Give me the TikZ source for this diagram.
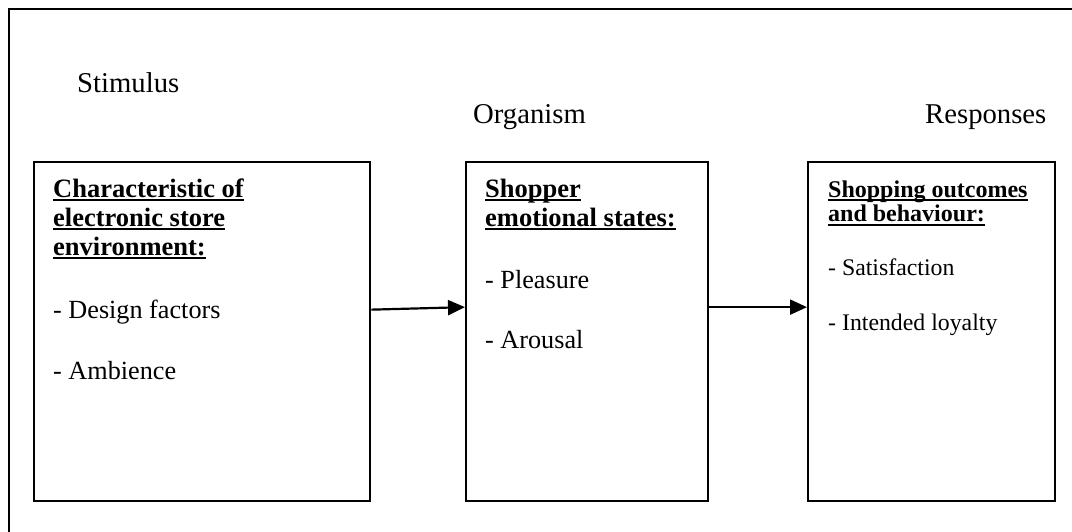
\documentclass[tikz,border=0pt]{standalone}
\usepackage{fontspec}
\setmainfont{Liberation Serif}
\usetikzlibrary{arrows.meta}
\newcommand\myul[1]{\setbox0\hbox{#1}\rlap{\rule[-3.8pt]{\wd0}{2.2pt}}\box0}
\begin{document}
\begin{tikzpicture}[x=1pt,y=-1pt,
  boxnode/.style={draw,line width=2.3pt,rectangle,anchor=north west,inner sep=0pt,minimum height=339pt},
  toplbl/.style={anchor=base west,inner sep=0pt,font=\fontsize{28.7}{30}\selectfont},
  hdr/.style={anchor=base west,inner sep=0pt,font=\fontsize{26.5}{30}\selectfont\bfseries},
  item/.style={anchor=base west,inner sep=0pt,font=\fontsize{26.2}{30}\selectfont},
  hdrs/.style={anchor=base west,inner sep=0pt,font=\fontsize{24}{26}\selectfont\bfseries},
  items/.style={anchor=base west,inner sep=0pt,font=\fontsize{23.8}{26}\selectfont},
  arr/.style={line width=2.2pt,-{Triangle[length=17pt,width=15pt]}}]
\useasboundingbox (0,0) rectangle (1072,532);
\draw[line width=1.8pt] (9,532) -- (9,9) -- (1072,9);
% labels
\node[toplbl] (ls) at (77,93) {Stimulus};
\node[toplbl] (lo) at (473,124) {Organism};
\node[toplbl] (lr) at (925,124) {Responses};
% boxes
\node[boxnode,minimum width=336pt] (b1) at (33,161) {};
\node[boxnode,minimum width=242pt] (b2) at (465,161) {};
\node[boxnode,minimum width=247pt] (b3) at (807,161) {};
% box 1 text
\node[hdr] (t11) at (53,197) {\myul{Characteristic of}};
\node[hdr] (t12) at (53,226) {\myul{electronic store}};
\node[hdr] (t13) at (53,255) {\myul{environment:}};
\node[item] (t14) at (53,318) {- Design factors};
\node[item] (t15) at (53,379) {- Ambience};
% box 2 text
\node[hdr] (t21) at (485,197) {\myul{Shopper}};
\node[hdr] (t22) at (485,226) {\myul{emotional states:}};
\node[item] (t23) at (485,288) {- Pleasure};
\node[item] (t24) at (485,348) {- Arousal};
% box 3 text
\node[hdrs] (t31) at (828,197) {\myul{Shopping outcomes}};
\node[hdrs] (t32) at (828,222) {\myul{and behaviour:}};
\node[items] (t33) at (828,275) {- Satisfaction};
\node[items] (t34) at (828,330) {- Intended loyalty};
% arrows
\draw[arr] ([yshift=22pt]b1.east) -- ([yshift=24.5pt]b2.west);
\draw[arr] ([yshift=24.5pt]b2.east) -- ([yshift=24.5pt]b3.west);
\end{tikzpicture}
\end{document}
